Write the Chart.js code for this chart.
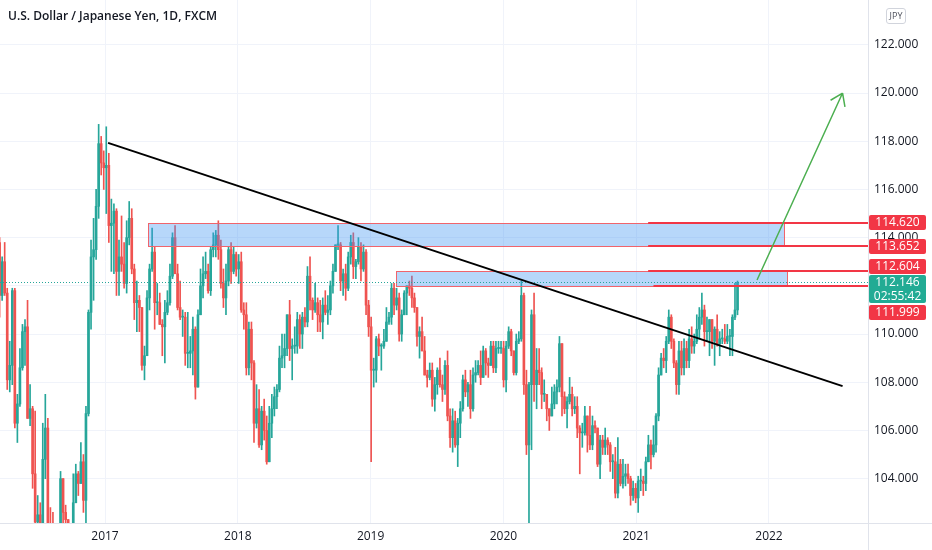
<!DOCTYPE html>
<html lang="en">
<head>
<meta charset="UTF-8">
<title>U.S. Dollar / Japanese Yen, 1D, FXCM</title>
<script src="https://cdn.jsdelivr.net/npm/chart.js@4.4.1/dist/chart.umd.min.js"></script>
<style>
  html, body { margin: 0; padding: 0; background: #fff; }
  #wrap { position: relative; width: 932px; height: 550px; }
  #title { position: absolute; left: 8px; top: 7px; font: 600 12px 'Open Sans', sans-serif; color: #131722; }
  #cur { position: absolute; left: 886px; top: 8px; width: 18px; height: 14px; border: 1px solid #d1d4dc; border-radius: 3px;
         font: 9px 'Open Sans', sans-serif; color: #50535e; text-align: center; line-height: 14px; }
</style>
</head>
<body>
<div id="wrap">
  <canvas id="chart" width="932" height="550"></canvas>
  <div id="title">U.S. Dollar / Japanese Yen, 1D, FXCM</div>
  <div id="cur">JPY</div>
</div>

<script>
// weekly candles [open, high, low, close], first week starts Monday 2016-03-14
const firstWeek = Date.UTC(2016, 2, 14);

const y2016 = [
  [113.8,114.0,110.7,111.6],[111.6,113.2,111.4,113.0],[113.0,113.8,111.6,111.7],[111.7,111.9,107.7,108.1],
  [108.1,109.7,107.6,108.7],[108.7,111.9,107.9,111.8],[111.8,111.9,106.1,106.3],[106.3,107.5,105.5,107.1],
  [107.1,109.4,107.0,108.6],[108.6,110.4,108.5,110.1],[110.1,110.6,108.7,110.3],[110.3,111.4,106.5,106.5],
  [106.5,107.9,106.2,106.9],[106.9,107.0,103.6,104.2],[104.2,106.8,99.0,102.2],[102.2,103.3,101.5,102.5],
  [102.5,103.0,99.9,100.6],[100.6,106.3,100.5,104.8],[104.8,107.5,104.0,106.1],[106.1,106.5,101.7,102.0],
  [102.0,102.8,100.7,101.8],[101.8,102.6,101.0,101.3],[101.3,101.4,99.5,100.2],[100.2,102.0,99.9,101.8],
  [101.8,104.3,101.8,104.0],[104.0,104.0,101.2,102.6],[102.6,102.9,101.5,102.3],[102.3,102.3,100.1,101.0],
  [101.0,101.9,100.1,101.3],[101.3,104.2,101.2,103.0],[103.0,104.6,103.0,104.2],[104.2,104.3,103.3,103.8],
  [103.8,105.5,103.8,104.7],[104.7,105.0,102.6,103.1],[103.1,107.0,101.2,106.7],[106.7,111.0,106.6,110.9],
  [110.9,113.9,110.2,113.2],[113.2,114.8,111.4,113.5],[113.5,116.0,113.1,115.3],[115.3,118.7,114.8,117.9],
  [117.9,118.2,116.6,117.1],[117.1,117.6,116.0,116.9]
];
const y2017 = [
  [116.9,118.6,115.0,117.0],[117.0,117.5,113.8,114.5],[114.5,115.6,112.6,114.6],[114.6,115.4,112.5,115.1],
  [115.1,115.2,111.6,112.6],[112.6,113.9,111.6,113.2],[113.2,114.9,112.6,112.9],[112.9,113.8,111.9,112.1],
  [112.1,114.7,111.7,114.0],[114.0,115.5,113.7,114.8],[114.8,115.2,112.5,112.7],[112.7,112.9,110.6,111.3],
  [111.3,112.2,110.1,111.4],[111.4,111.6,110.1,111.1],[111.1,111.1,108.5,108.7],[108.7,109.5,108.1,109.1],
  [109.1,111.8,109.1,111.5],[111.5,112.9,111.0,112.7],[112.7,114.4,112.6,113.4],[113.4,113.6,110.2,111.3],
  [111.3,112.1,110.8,111.3],[111.3,111.7,110.4,110.4],[110.4,110.6,109.1,110.3],[110.3,111.4,108.8,110.9],
  [110.9,111.8,110.8,111.3],[111.3,112.9,111.2,112.4],[112.4,114.2,112.3,114.0],[114.0,114.5,112.5,112.5],
  [112.5,112.9,111.0,111.1],[111.1,112.2,110.6,110.7],[110.7,111.0,109.9,110.7],[110.7,110.9,108.7,109.2],
  [109.2,110.9,108.6,109.2],[109.2,109.9,108.6,109.3],[109.3,110.7,108.3,110.2],[110.2,110.3,107.3,107.8],
  [107.8,111.0,107.8,110.8],[110.8,112.7,110.8,112.0],[112.0,113.2,111.5,112.5],[112.5,113.4,112.3,112.6],
  [112.6,112.9,111.7,111.8],[111.8,113.6,111.6,113.5],[113.5,114.2,113.2,113.7],[113.7,114.3,113.2,114.1],
  [114.1,114.7,113.1,113.5],[113.5,113.9,111.9,112.1],[112.1,112.7,111.1,111.5],[111.5,112.9,110.8,112.2],
  [112.2,113.6,112.0,113.5],[113.5,113.8,112.1,112.6],[112.6,113.6,112.5,113.3],[113.3,113.4,112.4,112.7]
];
const y2018 = [
  [112.7,113.3,112.1,113.0],[113.0,113.4,110.9,111.0],[111.0,111.3,110.2,110.8],[110.8,111.3,108.3,108.6],
  [108.6,110.5,108.3,110.2],[110.2,110.5,108.1,108.8],[108.8,108.9,105.5,106.3],[106.3,107.9,106.1,106.9],
  [106.9,107.7,105.3,105.4],[105.4,107.0,105.2,106.8],[106.8,107.3,105.6,106.0],[106.0,106.6,104.6,104.7],
  [104.7,107.0,104.7,106.3],[106.3,107.5,105.7,106.9],[106.9,107.8,106.6,107.4],[107.4,107.9,106.9,107.7],
  [107.7,109.5,107.6,109.0],[109.0,110.0,108.6,109.1],[109.1,110.0,108.6,109.4],[109.4,110.8,109.1,110.8],
  [110.8,111.4,108.9,109.4],[109.4,109.8,108.1,109.5],[109.5,110.3,109.2,109.5],[109.5,110.9,109.2,110.6],
  [110.6,110.8,109.4,110.0],[110.0,110.9,109.4,110.7],[110.7,111.1,110.3,110.5],[110.5,112.8,110.3,112.4],
  [112.4,113.2,111.0,111.4],[111.4,111.5,110.6,111.0],[111.0,112.1,110.9,111.3],[111.3,111.5,110.1,110.8],
  [110.8,111.4,110.1,110.5],[110.5,111.5,109.8,111.2],[111.2,111.8,110.8,110.9],[110.9,111.6,110.4,111.0],
  [111.0,112.2,110.8,112.0],[112.0,112.9,111.7,112.6],[112.6,113.7,112.6,113.7],[113.7,114.5,113.5,113.7],
  [113.7,113.8,111.8,112.2],[112.2,112.7,111.6,112.5],[112.5,112.9,111.4,111.9],[111.9,113.4,111.8,113.2],
  [113.2,114.1,112.9,113.8],[113.8,114.2,112.3,112.8],[112.8,113.1,112.3,113.0],[113.0,114.0,112.9,113.6],
  [113.6,113.8,112.2,112.7],[112.7,113.7,112.6,113.4],[113.4,113.5,110.8,111.2],[111.2,111.4,109.9,110.3]
];
const y2019 = [
  [110.3,110.7,104.7,108.5],[108.5,109.0,107.8,108.5],[108.5,109.9,108.0,109.8],[109.8,110.0,109.1,109.5],
  [109.5,109.6,108.5,109.5],[109.5,110.2,109.4,109.7],[109.7,111.1,109.7,110.5],[110.5,110.9,110.4,110.7],
  [110.7,112.1,110.4,111.9],[111.9,112.1,110.8,111.2],[111.2,111.9,111.0,111.5],[111.5,111.7,109.7,110.0],
  [110.0,111.0,109.7,110.8],[110.8,111.8,110.8,111.7],[111.7,112.0,110.8,112.0],[112.0,112.2,111.6,111.9],
  [111.9,112.4,111.1,111.5],[111.5,111.7,110.9,111.1],[111.1,111.1,109.5,109.9],[109.9,110.3,109.0,110.1],
  [110.1,110.7,109.3,109.3],[109.3,109.9,108.3,108.3],[108.3,108.5,107.8,108.2],[108.2,108.8,108.1,108.5],
  [108.5,108.8,107.0,107.3],[107.3,108.2,106.8,107.9],[107.9,108.6,107.5,108.5],[108.5,109.0,107.8,107.9],
  [107.9,108.3,107.2,107.7],[107.7,108.9,107.5,108.7],[108.7,109.3,106.4,106.6],[106.6,106.9,105.3,105.7],
  [105.7,106.9,105.1,106.4],[106.4,106.8,105.3,105.4],[105.4,106.5,104.5,106.3],[106.3,107.2,105.7,106.9],
  [106.9,108.3,106.8,108.1],[108.1,108.5,107.4,107.6],[107.6,108.0,107.0,107.9],[107.9,108.5,106.5,106.9],
  [106.9,108.6,106.8,108.3],[108.3,108.9,108.0,108.4],[108.4,108.9,108.3,108.7],[108.7,109.3,107.9,108.2],
  [108.2,109.5,108.2,109.3],[109.3,109.4,108.3,108.8],[108.8,109.0,108.2,108.7],[108.7,109.7,108.7,109.5],
  [109.5,109.7,108.4,108.6],[108.6,109.7,108.4,109.4],[109.4,109.7,109.2,109.4],[109.4,109.7,109.2,109.4]
];
const y2020 = [
  [109.4,109.7,107.8,108.1],[108.1,109.7,107.6,109.5],[109.5,110.3,109.4,110.1],[110.1,110.2,109.1,109.3],
  [109.3,109.3,108.3,108.4],[108.4,110.0,108.3,109.7],[109.7,110.1,109.6,109.8],[109.8,112.2,109.7,111.6],
  [111.6,111.7,107.5,107.9],[107.9,108.5,105.0,105.4],[105.4,108.0,101.2,107.9],[107.9,111.0,105.2,110.8],
  [110.8,111.7,107.2,107.9],[107.9,109.4,106.9,108.5],[108.5,109.4,107.9,108.4],[108.4,108.6,106.9,107.5],
  [107.5,108.1,107.2,107.5],[107.5,107.5,106.4,106.9],[106.9,106.9,106.0,106.6],[106.6,107.8,106.6,107.1],
  [107.1,107.9,106.9,107.6],[107.6,108.1,107.1,107.8],[107.8,109.9,107.6,109.6],[109.6,109.6,106.6,107.4],
  [107.4,107.6,106.7,106.9],[106.9,107.4,106.1,107.2],[107.2,108.2,107.1,107.5],[107.5,107.8,106.6,106.9],
  [106.9,107.4,106.7,107.0],[107.0,107.4,105.7,106.1],[106.1,106.2,104.2,105.9],[105.9,106.3,105.3,105.9],
  [105.9,107.0,105.8,106.6],[106.6,106.6,105.1,105.8],[105.8,107.0,105.2,105.4],[105.4,106.6,105.2,106.2],
  [106.2,106.4,105.9,106.1],[106.1,106.1,104.5,104.6],[104.6,105.8,104.0,105.6],[105.6,105.8,105.0,105.3],
  [105.3,106.1,105.0,105.6],[105.6,105.7,105.0,105.4],[105.4,105.5,104.3,104.7],[104.7,105.0,104.0,104.7],
  [104.7,105.3,103.2,103.4],[103.4,105.7,103.2,104.6],[104.6,104.8,103.7,103.8],[103.8,104.8,103.6,104.1],
  [104.1,104.6,103.7,104.2],[104.2,104.6,103.8,104.0],[104.0,104.1,102.9,103.3],[103.3,103.9,103.1,103.6],
  [103.6,103.8,103.0,103.2]
];
const y2021 = [
  [103.2,104.1,102.6,103.9],[103.9,104.4,103.5,103.9],[103.9,104.1,103.3,103.8],[103.8,104.9,103.5,104.7],
  [104.7,105.8,104.7,105.4],[105.4,105.6,104.4,105.0],[105.0,106.2,104.9,105.4],[105.4,106.7,105.1,106.6],
  [106.6,108.6,106.4,108.3],[108.3,109.2,108.3,109.0],[109.0,109.4,108.6,108.9],[108.9,109.9,108.4,109.7],
  [109.7,111.0,109.6,110.7],[110.7,110.8,109.4,109.7],[109.7,109.8,108.6,108.8],[108.8,108.9,107.5,107.9],
  [107.9,109.7,107.5,109.3],[109.3,109.7,108.3,108.6],[108.6,109.8,108.3,109.4],[109.4,109.7,108.6,108.9],
  [108.9,110.2,108.6,109.8],[109.8,110.3,109.2,109.5],[109.5,110.0,109.2,109.7],[109.7,110.8,109.6,110.2],
  [110.2,111.1,109.8,110.7],[110.7,111.7,110.4,111.0],[111.0,111.2,109.5,110.1],[110.1,110.7,109.7,110.1],
  [110.1,110.6,109.1,110.6],[110.6,110.6,109.4,109.7],[109.7,110.3,108.7,110.2],[110.2,110.8,109.5,109.6],
  [109.6,110.1,109.1,109.8],[109.8,110.2,109.6,109.8],[109.8,110.4,109.6,109.7],[109.7,110.4,109.6,109.9],
  [109.9,110.2,109.1,109.9],[109.9,110.8,109.1,110.7],[110.7,112.1,110.6,111.0],[111.0,112.2,110.8,112.146]
];

const yearTicks = [2017, 2018, 2019, 2020, 2021, 2022];
const priceTicks = [104, 106, 108, 110, 112, 114, 116, 118, 120, 122];

// drawings on the chart (time in decimal years, prices in yen)
const zones = [
  { from: 2017.326, to: 2022.113, top: 114.620, bottom: 113.652 },
  { from: 2019.188, to: 2022.135, top: 112.604, bottom: 111.999 }
];
const rays = [
  { from: 2021.09, price: 114.620 },
  { from: 2021.09, price: 113.652 },
  { from: 2021.09, price: 112.604 },
  { from: 2021.13, price: 111.999 }
];
const trendLine = [{ t: 2017.023, p: 117.93 }, { t: 2022.554, p: 107.84 }];
const arrowLine = [{ t: 2021.91, p: 112.24 }, { t: 2022.554, p: 120.0 }];
const lastPrice = 112.146;
const countdown = '02:55:42';

const UP = '#26a69a', DOWN = '#ef5350', RED = '#f23645';
const DAY = 86400000;

function decYear(ms) {
  const y = new Date(ms).getUTCFullYear();
  const s = Date.UTC(y, 0, 1), e = Date.UTC(y + 1, 0, 1);
  return y + (ms - s) / (e - s);
}

const candles = [].concat(y2016, y2017, y2018, y2019, y2020, y2021);
const times = candles.map((c, i) => decYear(firstWeek + i * 7 * DAY + 2.5 * DAY));

const bodies = candles.map((c, i) => ({ x: times[i], y: [c[0], c[3]], up: c[3] >= c[0] }));
const wicks = candles.map((c, i) => ({ x: times[i], y: [c[2], c[1]], up: c[3] >= c[0] }));
const candleColor = ctx => (ctx.raw && ctx.raw.up ? UP : DOWN);

const drawings = {
  id: 'drawings',
  afterDatasetsDraw(chart) {
    const { ctx, chartArea: a, scales: { x, y } } = chart;
    ctx.save();
    ctx.beginPath();
    ctx.rect(a.left, a.top, a.right - a.left, a.bottom - a.top);
    ctx.clip();

    zones.forEach(z => {
      const x0 = Math.round(x.getPixelForValue(z.from)), x1 = Math.round(x.getPixelForValue(z.to));
      const y0 = Math.round(y.getPixelForValue(z.top)), y1 = Math.round(y.getPixelForValue(z.bottom));
      ctx.fillStyle = 'rgba(66,150,243,0.38)';
      ctx.fillRect(x0, y0, x1 - x0, y1 - y0);
      ctx.strokeStyle = '#f0646c';
      ctx.lineWidth = 1;
      ctx.strokeRect(x0 + 0.5, y0 + 0.5, x1 - x0, y1 - y0);
    });

    ctx.strokeStyle = RED;
    ctx.lineWidth = 2;
    rays.forEach(r => {
      const yy = Math.round(y.getPixelForValue(r.price));
      ctx.beginPath();
      ctx.moveTo(x.getPixelForValue(r.from), yy);
      ctx.lineTo(a.right, yy);
      ctx.stroke();
    });

    // last price line
    const ly = Math.round(y.getPixelForValue(lastPrice)) + 0.5;
    ctx.strokeStyle = UP;
    ctx.lineWidth = 1;
    ctx.setLineDash([1, 2]);
    ctx.beginPath();
    ctx.moveTo(a.left, ly);
    ctx.lineTo(a.right, ly);
    ctx.stroke();
    ctx.setLineDash([]);

    // trend line
    ctx.strokeStyle = '#000';
    ctx.lineWidth = 2;
    ctx.beginPath();
    ctx.moveTo(x.getPixelForValue(trendLine[0].t), y.getPixelForValue(trendLine[0].p));
    ctx.lineTo(x.getPixelForValue(trendLine[1].t), y.getPixelForValue(trendLine[1].p));
    ctx.stroke();

    // target arrow
    const ax0 = x.getPixelForValue(arrowLine[0].t), ay0 = y.getPixelForValue(arrowLine[0].p);
    const ax1 = x.getPixelForValue(arrowLine[1].t), ay1 = y.getPixelForValue(arrowLine[1].p);
    const ang = Math.atan2(ay1 - ay0, ax1 - ax0);
    ctx.strokeStyle = '#4caf50';
    ctx.lineWidth = 1.5;
    ctx.beginPath();
    ctx.moveTo(ax0, ay0);
    ctx.lineTo(ax1, ay1);
    [-0.6, 0.6].forEach(d => {
      ctx.moveTo(ax1, ay1);
      ctx.lineTo(ax1 - 14 * Math.cos(ang + d), ay1 - 14 * Math.sin(ang + d));
    });
    ctx.stroke();
    ctx.restore();
  },
  afterDraw(chart) {
    const { ctx, chartArea: a, scales: { y } } = chart;
    ctx.save();
    // axis borders
    ctx.strokeStyle = '#e0e3eb';
    ctx.lineWidth = 1;
    ctx.beginPath();
    ctx.moveTo(Math.round(a.right) + 0.5, 0);
    ctx.lineTo(Math.round(a.right) + 0.5, chart.height);
    ctx.moveTo(0, Math.round(a.bottom) + 0.5);
    ctx.lineTo(chart.width, Math.round(a.bottom) + 0.5);
    ctx.stroke();

    // price boxes on the axis
    const bx = Math.round(a.right) + 1, bw = 57, bh = 15;
    const ty = y.getPixelForValue(lastPrice);
    const tTop = Math.round(ty) - 7, tBot = tTop + 28;
    const box = (top, h, color, lines) => {
      ctx.fillStyle = color;
      ctx.beginPath();
      ctx.roundRect(bx, top, bw, h, 2);
      ctx.fill();
      ctx.fillStyle = '#fff';
      ctx.font = '12px "Open Sans", sans-serif';
      ctx.textAlign = 'center';
      ctx.textBaseline = 'middle';
      lines.forEach((s, i) => ctx.fillText(s, bx + bw / 2, top + 7.5 + i * 14));
    };
    rays.forEach(r => {
      const py = y.getPixelForValue(r.price);
      let top = Math.round(py - bh / 2);
      if (r.price > lastPrice) top = Math.min(top, tTop - 1 - bh);
      else top = Math.max(top, tBot + 2);
      box(top, bh, RED, [r.price.toFixed(3)]);
    });
    box(tTop, 28, '#22ab94', [lastPrice.toFixed(3), countdown]);
    ctx.restore();
  }
};

new Chart(document.getElementById('chart'), {
  type: 'bar',
  data: {
    datasets: [
      { data: bodies, backgroundColor: candleColor, barThickness: 2, minBarLength: 1, grouped: false, clip: 0 },
      { data: wicks, backgroundColor: candleColor, barThickness: 1, grouped: false, clip: 0 }
    ]
  },
  options: {
    responsive: false,
    animation: false,
    layout: { padding: 0 },
    plugins: { legend: { display: false }, tooltip: { enabled: false } },
    scales: {
      x: {
        type: 'linear',
        min: 2016.2093,
        max: 2022.7455,
        offset: false,
        grid: { color: '#f0f3fa', drawTicks: false, offset: false },
        border: { display: false },
        ticks: { padding: 6, color: '#131722', font: { family: 'Open Sans', size: 12 }, maxRotation: 0, autoSkip: false, callback: v => String(v) },
        afterBuildTicks: s => { s.ticks = yearTicks.map(v => ({ value: v })); },
        afterFit: s => { s.height = 27; s.paddingLeft = 0; s.paddingRight = 0; }
      },
      y: {
        position: 'right',
        min: 102.16,
        max: 123.86,
        grid: { color: '#f0f3fa', drawTicks: false },
        border: { display: false },
        ticks: { padding: 6, color: '#131722', font: { family: 'Open Sans', size: 12 }, callback: v => v.toFixed(3) },
        afterBuildTicks: s => { s.ticks = priceTicks.map(v => ({ value: v })); },
        afterFit: s => { s.width = 64; s.paddingTop = 0; s.paddingBottom = 0; }
      }
    }
  },
  plugins: [drawings]
});
</script>
</body>
</html>
